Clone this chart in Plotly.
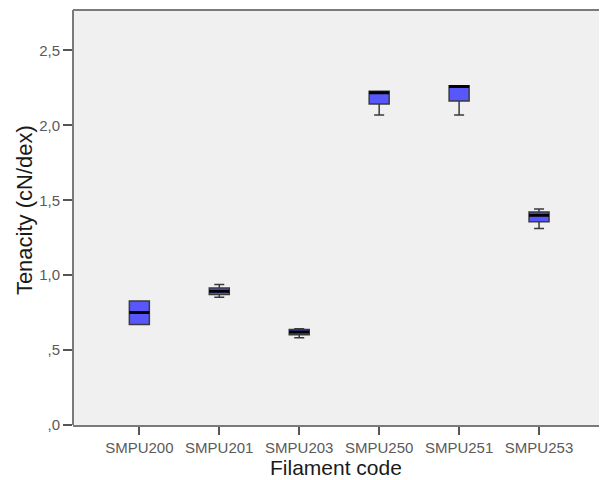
import plotly.graph_objects as go

# Filament tenacity summary (cN/dex) per filament code
codes = ["SMPU200", "SMPU201", "SMPU203", "SMPU250", "SMPU251", "SMPU253"]
lower_whisker = [0.671, 0.853, 0.582, 2.069, 2.069, 1.311]
q1 = [0.671, 0.871, 0.602, 2.142, 2.162, 1.356]
median = [0.751, 0.893, 0.620, 2.218, 2.260, 1.400]
q3 = [0.827, 0.915, 0.638, 2.227, 2.264, 1.422]
upper_whisker = [0.827, 0.938, 0.642, 2.227, 2.264, 1.442]

y_tick_vals = [0, 0.5, 1.0, 1.5, 2.0, 2.5]
y_tick_text = [",0", ",5", "1,0", "1,5", "2,0", "2,5"]

box_width = 0.25
font_family = "Liberation Sans, Arial, sans-serif"
frame_color = "#7a7a7a"

fig = go.Figure()

# Boxes with whiskers
fig.add_trace(go.Box(
    x=codes,
    q1=q1,
    median=median,
    q3=q3,
    lowerfence=lower_whisker,
    upperfence=upper_whisker,
    width=box_width,
    whiskerwidth=0.5,
    fillcolor="#5757fb",
    line=dict(color="#3a3a3a", width=1.5),
    boxpoints=False,
    hoverinfo="skip",
    showlegend=False,
))

# Heavy median bars drawn as flat boxes on top
fig.add_trace(go.Box(
    x=codes,
    q1=median,
    median=median,
    q3=median,
    lowerfence=median,
    upperfence=median,
    width=box_width,
    whiskerwidth=0,
    fillcolor="rgba(0,0,0,0)",
    line=dict(color="#000000", width=3),
    boxpoints=False,
    hoverinfo="skip",
    showlegend=False,
))

# Frame of the plotting area: top edge and left edge
fig.add_shape(
    type="line", xref="paper", yref="paper",
    x0=0, x1=1, y0=1, y1=1,
    line=dict(color=frame_color, width=2),
)
fig.add_shape(
    type="line", xref="paper", yref="paper",
    x0=0, x1=0, y0=0, y1=1,
    line=dict(color=frame_color, width=2),
)

# Axis titles
fig.add_annotation(
    text="Filament code", xref="paper", yref="paper",
    x=0.5, y=-0.1036, xanchor="center", yanchor="middle",
    showarrow=False, font=dict(size=21, color="#1a1a1a"),
)
fig.add_annotation(
    text="Tenacity (cN/dex)", xref="paper", yref="paper",
    x=-0.093, y=0.518, xanchor="center", yanchor="middle", textangle=-90,
    showarrow=False, font=dict(size=22, color="#1a1a1a"),
)

fig.update_layout(
    width=601,
    height=480,
    margin=dict(l=73, r=2, t=10, b=55),
    paper_bgcolor="#ffffff",
    plot_bgcolor="#f0f0f0",
    boxmode="overlay",
    font=dict(family=font_family, color="#5a5a5a", size=15),
    xaxis=dict(
        type="category",
        range=[-0.83, 5.75],
        showgrid=False,
        zeroline=False,
        showline=True,
        mirror=False,
        linecolor=frame_color,
        linewidth=2,
        ticks="outside",
        ticklen=8,
        tickwidth=1.5,
        tickcolor="#555555",
        tickfont=dict(size=15, color="#5a5a5a"),
    ),
    yaxis=dict(
        range=[0, 2.77],
        tickvals=y_tick_vals,
        ticktext=y_tick_text,
        showgrid=False,
        zeroline=False,
        showline=False,
        ticks="outside",
        ticklen=9,
        tickwidth=1.5,
        tickcolor="#555555",
        tickfont=dict(size=15, color="#5a5a5a"),
    ),
)

fig.write_html("out.html")
